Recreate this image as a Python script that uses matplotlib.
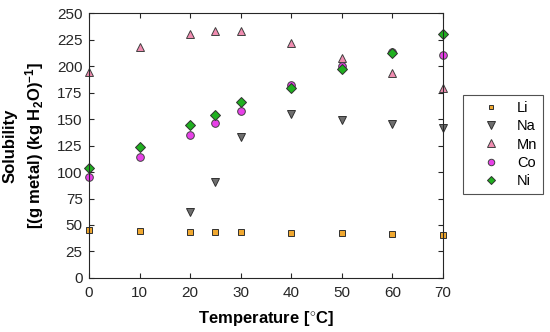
import matplotlib
matplotlib.use("Agg")
import matplotlib.pyplot as plt

plt.rcParams['font.family'] = ['Liberation Sans', 'DejaVu Sans']
plt.rcParams['mathtext.fontset'] = 'custom'
plt.rcParams['mathtext.rm'] = 'Liberation Sans:bold'
plt.rcParams['mathtext.bf'] = 'Liberation Sans:bold'
plt.rcParams['mathtext.default'] = 'bf'

temps = [0, 10, 20, 25, 30, 40, 50, 60, 70]
temps_na = [20, 25, 30, 40, 50, 60, 70]
li = [45.5, 44.3, 43.7, 43.5, 43.1, 42.5, 42.2, 41.5, 40.8]
na = [62, 91, 133.5, 155, 149.5, 145, 141.5]
mn = [194, 218, 230, 233, 233, 221.5, 208, 193.5, 179]
co = [95, 114, 135, 146.5, 157.5, 182, 200, 213.5, 210]
ni = [104, 123.5, 144, 154, 166, 179, 197, 212, 230]

fig = plt.figure(figsize=(5.5, 3.32), dpi=100)
ax = fig.add_axes([0.1618, 0.1627, 0.6436, 0.798])

ax.plot(temps, li, ls='none', marker='s', ms=3.8, mfc='#F0A830', mec='#303030', mew=0.7, label='Li')
ax.plot(temps_na, na, ls='none', marker='v', ms=6, mfc='#6E6E6E', mec='#303030', mew=0.7, label='Na')
ax.plot(temps, mn, ls='none', marker='^', ms=6, mfc='#F08CB0', mec='#404040', mew=0.7, label='Mn')
ax.plot(temps, co, ls='none', marker='o', ms=5.5, mfc='#E840E8', mec='#404040', mew=0.7, label='Co')
ax.plot(temps, ni, ls='none', marker='D', ms=4.6, mfc='#20B020', mec='#303030', mew=0.7, label='Ni')

ax.set_xlim(0, 70)
ax.set_ylim(0, 250)
ax.set_xticks(range(0, 71, 10))
ax.set_yticks(range(0, 251, 25))
ax.tick_params(direction='in', top=True, right=True, length=3.5, width=0.8,
               colors='#262626', labelsize=11, labelcolor='#262626')
ax.tick_params(axis='x', pad=6)
ax.tick_params(axis='y', pad=4.5)
for s in ax.spines.values():
    s.set_color('#262626')
    s.set_linewidth(0.8)
for ln in ax.lines:
    ln.set_clip_on(False)

ax.set_xlabel('Temperature [$^{\\circ}$C]', fontsize=12, fontweight='bold', labelpad=6)
ax.set_ylabel('Solubility\n[(g metal) (kg H$_2$O)$^{-1}$]', fontsize=12, fontweight='bold',
              linespacing=1.35, labelpad=8)

leg = ax.legend(loc='upper left', bbox_to_anchor=(1.0565, 0.6906), borderaxespad=0,
                frameon=True, fancybox=False, edgecolor='#262626', fontsize=10.5,
                handlelength=3.0, borderpad=0.4, labelspacing=0.3, handletextpad=0.3,
                markerscale=0.85)
leg.get_frame().set_linewidth(0.8)

fig.savefig('out.png', dpi=100)
